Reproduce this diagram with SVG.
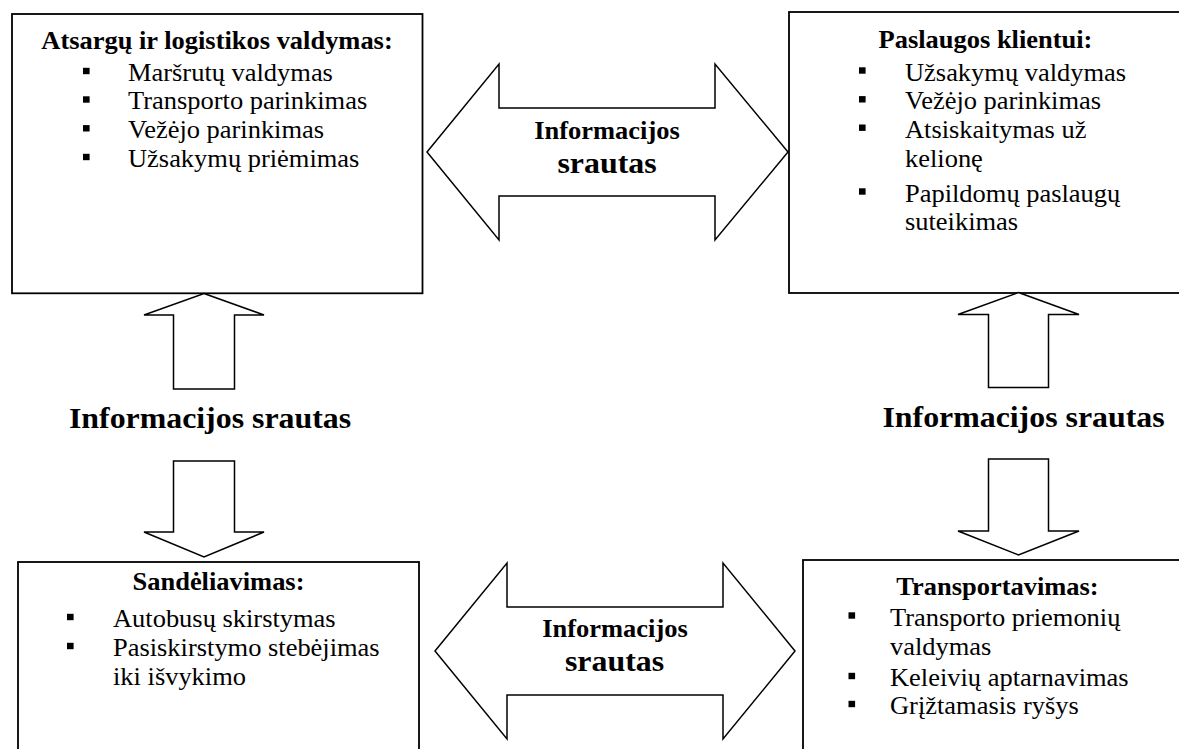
<svg xmlns="http://www.w3.org/2000/svg" width="1179" height="749" viewBox="0 0 1179 749" font-family="'Liberation Serif', 'DejaVu Serif', serif">
  <style>
    .box { fill: #ffffff; stroke: #000000; stroke-width: 1.8; }
    .arrow { fill: #ffffff; stroke: #000000; stroke-width: 1.5; stroke-linejoin: miter; }
    text { font-family: 'Liberation Serif', 'DejaVu Serif', serif; fill: #000000; }
    .title { font-weight: bold; font-size: 24.5px; text-anchor: middle; }
    .item { font-weight: normal; font-size: 24.5px; }
    .lbl { font-weight: bold; font-size: 24.5px; text-anchor: middle; }
    .lbl-big { font-weight: bold; font-size: 29.5px; text-anchor: middle; }
    .bullet { fill: #000000; }
  </style>
  <defs>
    <rect id="sq" class="bullet" x="0" y="-3.2" width="6.6" height="6.4"/>
  </defs>

  <rect width="1179" height="749" fill="#ffffff"/>

  <!-- Inventory and logistics management -->
  <g id="node-inventory">
    <rect class="box" x="12" y="14" width="410.5" height="279.3"/>
    <text class="title" transform="translate(217,49) scale(1.08,1)">Atsargų ir logistikos valdymas:</text>
    <use href="#sq" x="83" y="71"/>
    <text class="item" transform="translate(128,80.7) scale(1.08,1)">Maršrutų valdymas</text>
    <use href="#sq" x="83" y="99.5"/>
    <text class="item" transform="translate(128,109.3) scale(1.08,1)">Transporto parinkimas</text>
    <use href="#sq" x="83" y="128.3"/>
    <text class="item" transform="translate(128,138) scale(1.08,1)">Vežėjo parinkimas</text>
    <use href="#sq" x="83" y="157"/>
    <text class="item" transform="translate(128,166.7) scale(1.08,1)">Užsakymų priėmimas</text>
  </g>

  <!-- Customer services -->
  <g id="node-customer">
    <rect class="box" x="789" y="12" width="393" height="281"/>
    <text class="title" transform="translate(985.5,48) scale(1.08,1)">Paslaugos klientui:</text>
    <use href="#sq" x="859" y="70.5"/>
    <text class="item" transform="translate(905,80.7) scale(1.08,1)">Užsakymų valdymas</text>
    <use href="#sq" x="859" y="99.3"/>
    <text class="item" transform="translate(905,109.3) scale(1.08,1)">Vežėjo parinkimas</text>
    <use href="#sq" x="859" y="127.7"/>
    <text class="item" transform="translate(905,137.7) scale(1.08,1)">Atsiskaitymas už</text>
    <text class="item" transform="translate(905,166.5) scale(1.08,1)">kelionę</text>
    <use href="#sq" x="859" y="191.5"/>
    <text class="item" transform="translate(905,201.5) scale(1.08,1)">Papildomų paslaugų</text>
    <text class="item" transform="translate(905,230) scale(1.08,1)">suteikimas</text>
  </g>

  <!-- Warehousing -->
  <g id="node-warehouse">
    <rect class="box" x="18" y="562" width="401" height="200"/>
    <text class="title" transform="translate(218.5,590) scale(1.08,1)">Sandėliavimas:</text>
    <use href="#sq" x="67" y="617"/>
    <text class="item" transform="translate(113,627) scale(1.08,1)">Autobusų skirstymas</text>
    <use href="#sq" x="67" y="646"/>
    <text class="item" transform="translate(113,656) scale(1.08,1)">Pasiskirstymo stebėjimas</text>
    <text class="item" transform="translate(113,685) scale(1.08,1)">iki išvykimo</text>
  </g>

  <!-- Transportation -->
  <g id="node-transport">
    <rect class="box" x="803" y="560" width="390" height="200"/>
    <text class="title" transform="translate(997.5,595) scale(1.08,1)">Transportavimas:</text>
    <use href="#sq" x="848.5" y="615.5"/>
    <text class="item" transform="translate(890,625.5) scale(1.08,1)">Transporto priemonių</text>
    <text class="item" transform="translate(890,654.5) scale(1.08,1)">valdymas</text>
    <use href="#sq" x="848.5" y="676"/>
    <text class="item" transform="translate(890,686) scale(1.08,1)">Keleivių aptarnavimas</text>
    <use href="#sq" x="848.5" y="704"/>
    <text class="item" transform="translate(890,714) scale(1.08,1)">Grįžtamasis ryšys</text>
  </g>

  <!-- Information flows between the four areas -->
  <g id="connectors">
    <g id="flow-top">
      <path class="arrow" d="M427,152 L499,64 L499,108 L715,108 L715,64 L788,152 L715,240 L715,196 L499,196 L499,240 Z"/>
      <text class="lbl" transform="translate(607,139) scale(1.08,1)">Informacijos</text>
      <text class="lbl-big" transform="translate(607,173.3) scale(1.08,1)">srautas</text>
    </g>
    <g id="flow-bottom">
      <path class="arrow" d="M435,651 L507,563 L507,607 L723,607 L723,563 L795,651 L723,739 L723,695 L507,695 L507,739 Z"/>
      <text class="lbl" transform="translate(615,637) scale(1.08,1)">Informacijos</text>
      <text class="lbl-big" transform="translate(614.5,670.7) scale(1.08,1)">srautas</text>
    </g>
    <g id="flow-left">
      <path class="arrow" d="M204,293.5 L264,315 L234.5,315 L234.5,389 L173.5,389 L173.5,315 L144,315 Z"/>
      <path class="arrow" d="M173.5,461 L234.5,461 L234.5,532 L264,532 L204,557 L144,532 L173.5,532 Z"/>
      <text class="lbl-big" transform="translate(210,428.3) scale(1.08,1)">Informacijos srautas</text>
    </g>
    <g id="flow-right">
      <path class="arrow" d="M1018.5,292.5 L1079,314.5 L1048.5,314.5 L1048.5,387.5 L988.5,387.5 L988.5,314.5 L958,314.5 Z"/>
      <path class="arrow" d="M988.5,459 L1048.5,459 L1048.5,531 L1079,531 L1018.5,555 L958,531 L988.5,531 Z"/>
      <text class="lbl-big" transform="translate(1023.5,427) scale(1.08,1)">Informacijos srautas</text>
    </g>
  </g>
</svg>
